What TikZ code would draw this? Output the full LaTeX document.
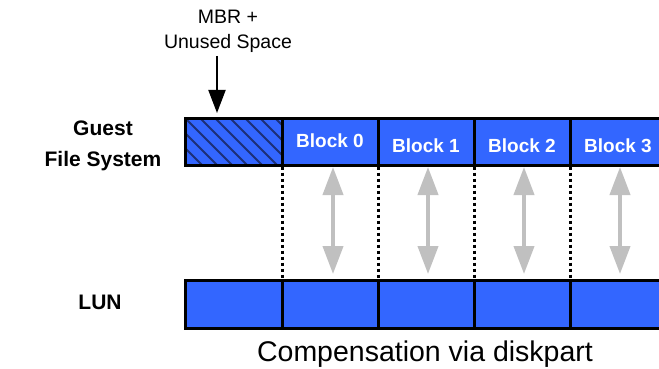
\documentclass[tikz,border=0pt]{standalone}
\usepackage{fontspec}
\setmainfont{Liberation Sans}
\usetikzlibrary{arrows.meta}
\definecolor{cellblue}{HTML}{3366FF}
\definecolor{hatchblue}{HTML}{1C2F78}
\definecolor{arrgrey}{HTML}{C0C0C0}
\begin{document}
\begin{tikzpicture}[x=1pt,y=-1pt,
  cell/.style={draw=black,line width=3pt,fill=cellblue,minimum width=96pt,minimum height=47pt,inner sep=0pt,outer sep=0pt,anchor=north west},
  firstcell/.style={cell,minimum width=97pt},
  hatch/.style={path picture={\foreach \k in {-4,...,8} \draw[hatchblue,line width=2pt] ([xshift=\k*15pt]path picture bounding box.north west) -- ++(60pt,-60pt);}},
  blocklbl/.style={text=white,font=\bfseries\fontsize{19}{22}\selectfont,inner sep=0pt},
  sidelbl/.style={font=\bfseries\fontsize{21}{31}\selectfont,align=center,inner sep=0pt},
  mbrlbl/.style={font=\fontsize{19.5}{25}\selectfont,align=center,inner sep=0pt},
  complbl/.style={font=\fontsize{28.5}{32}\selectfont,inner sep=0pt},
  dotline/.style={line width=3pt,dash pattern=on 3.5pt off 2.5pt},
  greyarr/.style={arrgrey,line width=4pt,{Triangle[width=20pt,length=28pt]}-{Triangle[width=20pt,length=28pt]}},
  blkarr/.style={black,line width=2pt,-{Triangle[width=17pt,length=23pt]}}
]
\useasboundingbox (0,0) rectangle (659,369);
\fill[white] (0,0) rectangle (659,369);

% top row
\node[firstcell,hatch] (mbr) at (185,118) {};
\node[cell] (b0) at (mbr.north east) {};
\node[cell] (b1) at (b0.north east) {};
\node[cell] (b2) at (b1.north east) {};
\node[cell] (b3) at (b2.north east) {};

% bottom row
\node[firstcell,minimum height=48pt] (lm) at (185,280) {};
\node[cell,minimum height=48pt] (l0) at (lm.north east) {};
\node[cell,minimum height=48pt] (l1) at (l0.north east) {};
\node[cell,minimum height=48pt] (l2) at (l1.north east) {};
\node[cell,minimum height=48pt] (l3) at (l2.north east) {};

% block labels
\node[blocklbl] (t0) at ([yshift=1pt]b0.center) {Block 0};
\node[blocklbl] (t1) at ([yshift=-4pt]b1.center) {Block 1};
\node[blocklbl] (t2) at ([yshift=-4pt]b2.center) {Block 2};
\node[blocklbl] (t3) at ([yshift=-4pt]b3.center) {Block 3};

% dotted lines
\draw[dotline] ([yshift=-1.5pt]mbr.south east) -- ([yshift=1.5pt]lm.north east);
\draw[dotline] ([yshift=-1.5pt]b0.south east) -- ([yshift=1.5pt]l0.north east);
\draw[dotline] ([yshift=-1.5pt]b1.south east) -- ([yshift=1.5pt]l1.north east);
\draw[dotline] ([yshift=-1.5pt]b2.south east) -- ([yshift=1.5pt]l2.north east);

% grey arrows
\draw[greyarr] ([xshift=3pt,yshift=-2pt]b0.south) -- ([xshift=3pt,yshift=6pt]l0.north);
\draw[greyarr] ([xshift=2pt,yshift=-2pt]b1.south) -- ([xshift=2pt,yshift=6pt]l1.north);
\draw[greyarr] ([xshift=2pt,yshift=-2pt]b2.south) -- ([xshift=2pt,yshift=6pt]l2.north);
\draw[greyarr] ([xshift=2pt,yshift=-2pt]b3.south) -- ([xshift=2pt,yshift=6pt]l3.north);

% labels
\node[mbrlbl] (mbrtxt) at (228,31) {MBR +\\Unused Space};
\coordinate (arrtop) at (217,56);
\draw[blkarr] (arrtop) -- ([xshift=32pt,yshift=5pt]mbr.north west);

\node[sidelbl] (guest) at (103,146) {Guest\\File System};
\node[sidelbl] (lun) at (100,302) {LUN};
\node[complbl] (comp) at (425,354) {Compensation via diskpart};
\end{tikzpicture}
\end{document}
